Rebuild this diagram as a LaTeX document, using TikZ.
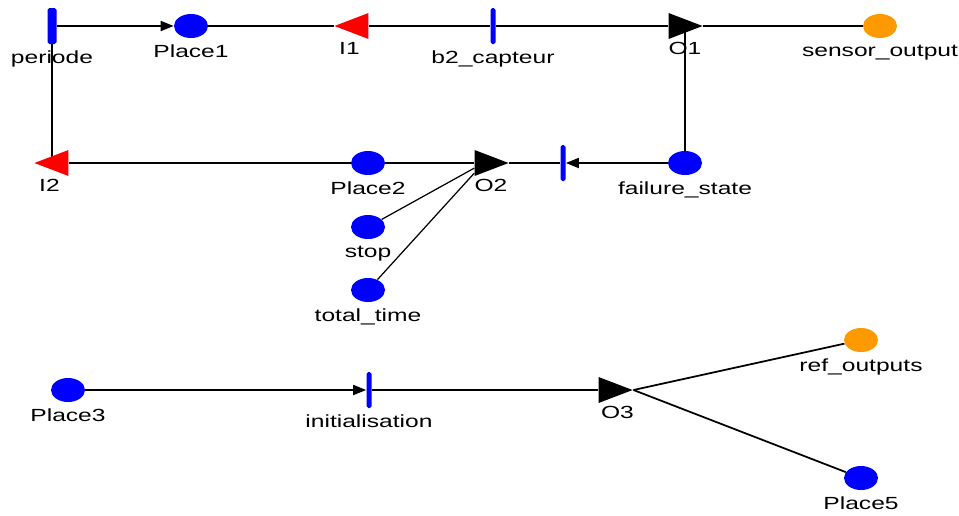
\documentclass[tikz,border=0pt]{standalone}
\usepackage{fontspec}
\setmainfont[FakeStretch=1.4]{Liberation Sans}
\usepackage{xcolor}
\usepackage{tikz}
\usetikzlibrary{positioning,arrows.meta,shapes.geometric,backgrounds}
\definecolor{cbleu}{HTML}{0000FF}
\definecolor{crouge}{HTML}{FF0000}
\definecolor{corange}{HTML}{FF9900}
\tikzset{
  place/.style={ellipse, fill=cbleu, minimum width=0.68cm, minimum height=0.48cm, inner sep=0pt},
  sortie/.style={place, fill=corange},
  barre/.style={rectangle, rounded corners=1pt, fill=cbleu, minimum width=0.1cm, minimum height=0.72cm, inner sep=0pt},
  barreg/.style={barre, minimum width=0.18cm},
  triang/.style={isosceles triangle, isosceles triangle stretches,
    fill=black, inner sep=0pt, minimum height=0.68cm, minimum width=0.52cm},
  porte/.style={triang, xshift=-0.15cm},
  inhib/.style={triang, fill=crouge, shape border rotate=180, xshift=0.15cm},
  lien/.style={draw=black, line width=1pt},
  lienf/.style={draw=black, line width=0.7pt},
  fleche/.style={lien, -{Triangle[length=0.26cm, width=0.2cm]}},
  every label/.style={font=\fontsize{10}{12}\selectfont, inner sep=0pt},
}

\begin{document}
\begin{tikzpicture}[on grid, label distance=0.12cm]
  \path[use as bounding box] (0,0) rectangle (19.18,-10.30);
  % ligne du haut
  \node[barreg, label=below:periode] (periode) at (1.04,-0.52) {};
  \node[place, right=2.78cm of periode, label=below:Place1] (place1) {};
  \node[inhib, right=3.22cm of place1, label={[xshift=-0.2cm]below:I1}] (i1) {};
  \node[barre, right=6.04cm of place1, label=below:b2\_capteur] (b2capteur) {};
  \node[porte, right=3.84cm of b2capteur, label={[xshift=0.15cm]below:O1}] (o1) {};
  \node[sortie, right=7.74cm of b2capteur, label=below:sensor\_output] (sensorout) {};
  % ligne du milieu
  \node[inhib, below=2.74cm of periode, label={[xshift=-0.2cm]below:I2}] (i2) {};
  \node[place, below right=2.74cm and 6.32cm of periode, label=below:Place2] (place2) {};
  \node[porte, right=2.46cm of place2, label={[xshift=0.15cm]below:O2}] (o2) {};
  \node[barre, right=3.90cm of place2] (t2) {};
  \node[place, right=2.44cm of t2, label=below:failure\_state] (failure) {};
  \node[place, below=1.28cm of place2, label=below:stop] (stop) {};
  \node[place, below=1.26cm of stop, label=below:total\_time] (totaltime) {};
  % ligne du bas
  \node[place, label=below:Place3] (place3) at (1.36,-7.80) {};
  \node[barre, right=6.02cm of place3, label=below:initialisation] (init) {};
  \node[porte, right=4.92cm of init, label={[xshift=0.2cm]below:O3}] (o3) {};
  \node[sortie, above right=1.0cm and 9.84cm of init, label=below:ref\_outputs] (refout) {};
  \node[place, below right=1.76cm and 9.84cm of init, label=below:Place5] (place5) {};

  \begin{scope}[on background layer]
    \draw[fleche] (periode) -- (place1);
    \draw[lien] (place1) -- (i1);
    \draw[lien] (i1) -- (b2capteur);
    \draw[lien] (b2capteur) -- (o1);
    \draw[lien] (o1.apex) -- (sensorout);
    \draw[lien] (periode) -- (periode |- i2.center);
    \draw[lien] (i2) -- (place2);
    \draw[lien] (place2) -- (o2);
    \draw[lien] (o2.apex) -- (t2);
    \draw[fleche] (failure) -- (t2);
    \draw[lien] (failure) -- (failure |- o1.center);
    \draw[lienf] (stop) -- (o2);
    \draw[lienf] (totaltime) -- (o2);
    \draw[fleche] (place3) -- (init);
    \draw[lien] (init) -- (o3);
    \draw[lien] (o3.apex) -- (refout);
    \draw[lien] (o3.apex) -- (place5);
  \end{scope}
\end{tikzpicture}
\end{document}
